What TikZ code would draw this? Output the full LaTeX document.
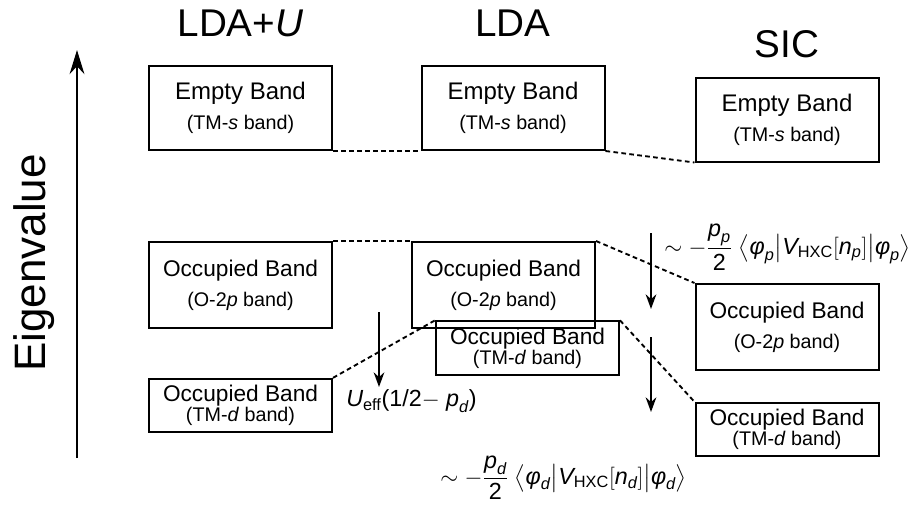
\documentclass[tikz,border=0pt]{standalone}
\usepackage{amsmath}
\usepackage{fontspec}
\setmainfont{Liberation Sans}
\usetikzlibrary{arrows.meta}

\newcommand{\bandsub}[1]{{\fontsize{14.8}{15}\selectfont(#1 band)}}
\newcommand{\sicshift}[1]{${\sim}\;{-}\dfrac{\textit{p}_{\textit{#1}}}{\text{2}}\;\bigl\langle\textit{φ}_{\textit{#1}}\big|\textit{V}_{\text{HXC}}[\textit{n}_{\textit{#1}}]\big|\textit{φ}_{\textit{#1}}\bigr\rangle$}

\begin{document}
\begin{tikzpicture}[x=0.75pt,y=-0.75pt,line join=miter,
  band/.style={draw,line width=1.5pt,inner sep=0pt,align=center,minimum width=137.25pt},
  empty node/.style={band,minimum height=63pt,font=\fontsize{18}{22.5}\selectfont},
  occ node/.style={band,minimum height=64.5pt,font=\fontsize{17}{22.5}\selectfont},
  d node/.style={band,minimum height=40pt,font=\fontsize{17}{15}\selectfont},
  title/.style={font=\fontsize{29}{34}\selectfont},
  level line/.style={line width=1.4pt,dash pattern=on 3.5pt off 2.5pt},
  shift arrow/.style={-{Stealth[length=11pt,width=8pt]},line width=1.4pt},
  term/.style={anchor=west,inner sep=0pt,font=\fontsize{17.5}{20}\selectfont}]

            \useasboundingbox (0,0) rectangle (923,507);

            % axis
            \coordinate (axBot) at (77,458);
            \coordinate (axTop) at (77,50);
            \draw[-{Stealth[length=18pt,width=11pt]},line width=2.2pt] (axBot) -- (axTop);
            \node[rotate=90,font=\fontsize{33}{38}\selectfont] (eig) at (34,263) {Eigenvalue};

            % titles
            \node[title] (tU) at (240.5,23) {LDA+\textit{U}};
            \node[title] (tLda) at (513,23) {LDA};
            \node[title] (tSic) at (787,44) {SIC};

            % bands
            \node[empty node] (uEmpty) at (240.5,108) {Empty Band\\\bandsub{TM-\textit{s}}};
            \node[empty node] (ldaEmpty) at (513,108) {Empty Band\\\bandsub{TM-\textit{s}}};
            \node[empty node] (sicEmpty) at (787,119.5) {Empty Band\\\bandsub{TM-\textit{s}}};

            \node[occ node] (uOcc) at (240.5,285) {Occupied Band\\\bandsub{O-2\textit{p}}};
            \node[occ node] (ldaOcc) at (503.5,285) {Occupied Band\\\bandsub{O-2\textit{p}}};
            \node[occ node] (sicOcc) at (787,327) {Occupied Band\\\bandsub{O-2\textit{p}}};

            \node[d node] (uD) at (240.5,405.5) {Occupied Band\\\bandsub{TM-\textit{d}}};
            \node[d node] (ldaD) at (527.5,348) {Occupied Band\\\bandsub{TM-\textit{d}}};
            \node[d node] (sicD) at (787,429.5) {Occupied Band\\\bandsub{TM-\textit{d}}};

            \draw[level line] (uEmpty.south east) to (ldaEmpty.south west);
            \draw[level line] (ldaEmpty.south east) to (sicEmpty.south west);
            \draw[level line] (uOcc.north east) to (ldaOcc.north west);
            \draw[level line] (ldaOcc.north east) to (sicOcc.north west);
            \draw[level line] (uD.north east) to (ldaD.north west);
            \draw[level line] (ldaD.north east) to (sicD.north west);

            % shifts
            \coordinate (uTop) at (379,312);
            \coordinate (uBot) at (379,387);
            \coordinate (pTop) at (651,233);
            \coordinate (pBot) at (651,309);
            \coordinate (dTop) at (651,337);
            \coordinate (dBot) at (651,412);
            \draw[shift arrow] (uTop) -- (uBot);
            \draw[shift arrow] (pTop) -- (pBot);
            \draw[shift arrow] (dTop) -- (dBot);

            \node[term] (ueff) at (346,401) {$\textit{U}_{\text{eff}}\text{(1/2}{-}\;\textit{p}_{\textit{d}}\text{)}$};
            \node[term] (pTerm) at (664,247) {\sicshift{p}};
            \node[term] (dTerm) at (440,478) {\sicshift{d}};

        \end{tikzpicture}
\end{document}
